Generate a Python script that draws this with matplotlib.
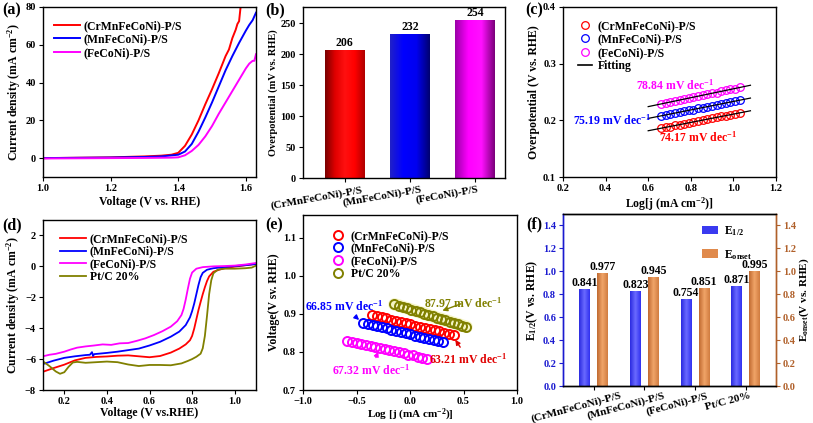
import numpy as np
import matplotlib
matplotlib.use("Agg")
import matplotlib.pyplot as plt
from matplotlib.colors import LinearSegmentedColormap
from matplotlib.patches import Patch
from matplotlib.transforms import ScaledTranslation

# (a) OER polarization curves
va_cr = [1.00, 1.10, 1.20, 1.30, 1.35, 1.38, 1.40, 1.42, 1.44, 1.46, 1.48, 1.50, 1.52, 1.54, 1.55, 1.56, 1.57, 1.575, 1.58, 1.585]
ja_cr = [0.0, 0.2, 0.4, 0.9, 1.3, 1.8, 2.8, 6.5, 12.5, 20.0, 28.5, 36.5, 45.0, 54.0, 57.5, 63.5, 68.0, 71.0, 72.5, 81.0]
va_mn = [1.00, 1.10, 1.20, 1.30, 1.35, 1.40, 1.42, 1.44, 1.46, 1.48, 1.50, 1.52, 1.54, 1.56, 1.58, 1.60, 1.61, 1.62, 1.63]
ja_mn = [0.0, 0.15, 0.3, 0.6, 0.9, 1.8, 3.5, 7.5, 14.0, 21.5, 29.5, 38.0, 46.5, 54.0, 61.0, 67.5, 70.5, 73.0, 77.0]
va_fe = [1.00, 1.10, 1.20, 1.30, 1.38, 1.40, 1.42, 1.44, 1.46, 1.48, 1.50, 1.52, 1.54, 1.56, 1.58, 1.60, 1.61, 1.62, 1.625, 1.63]
ja_fe = [-0.2, -0.1, 0.0, 0.1, 0.25, 0.4, 1.5, 3.8, 7.0, 11.5, 17.0, 23.5, 29.5, 35.5, 41.5, 47.5, 50.0, 51.5, 51.5, 55.0]

names = ["(CrMnFeCoNi)-P/S", "(MnFeCoNi)-P/S", "(FeCoNi)-P/S"]

# (b) overpotential
overpot = [206, 232, 254]

# (c) OER Tafel
logj_c = [0.660, 0.682, 0.704, 0.725, 0.747, 0.769, 0.791, 0.812, 0.834, 0.856, 0.878, 0.899, 0.921, 0.943, 0.965, 0.986, 1.008, 1.030]
eta_cr = [0.186, 0.188, 0.189, 0.191, 0.192, 0.194, 0.196, 0.197, 0.199, 0.200, 0.202, 0.204, 0.205, 0.207, 0.208, 0.210, 0.212, 0.213]
eta_mn = [0.208, 0.210, 0.211, 0.213, 0.214, 0.216, 0.218, 0.219, 0.221, 0.222, 0.224, 0.226, 0.227, 0.229, 0.231, 0.232, 0.234, 0.236]
eta_fe = [0.229, 0.231, 0.232, 0.234, 0.236, 0.237, 0.239, 0.241, 0.243, 0.244, 0.246, 0.248, 0.249, 0.251, 0.253, 0.255, 0.256, 0.258]
tafel_c = ["74.17", "75.19", "78.84"]

# (d) ORR polarization curves
vd_cr = [0.10, 0.15, 0.20, 0.25, 0.30, 0.35, 0.40, 0.45, 0.50, 0.55, 0.60, 0.65, 0.70, 0.74, 0.77, 0.79, 0.80, 0.81, 0.82, 0.83, 0.84, 0.85, 0.86, 0.87, 0.88, 0.90, 0.93, 0.96, 1.00, 1.05, 1.10]
jd_cr = [-6.82, -6.58, -6.36, -6.08, -5.92, -5.86, -5.83, -5.78, -5.76, -5.82, -5.88, -5.80, -5.58, -5.32, -5.05, -4.78, -4.50, -4.02, -3.42, -2.82, -2.30, -1.80, -1.35, -0.95, -0.65, -0.35, -0.20, -0.10, -0.02, 0.07, 0.16]
vd_mn = [0.10, 0.15, 0.20, 0.25, 0.30, 0.32, 0.33, 0.335, 0.34, 0.40, 0.45, 0.50, 0.55, 0.60, 0.65, 0.70, 0.74, 0.77, 0.79, 0.80, 0.81, 0.82, 0.83, 0.84, 0.85, 0.87, 0.90, 0.95, 1.00, 1.05, 1.10]
jd_mn = [-6.32, -6.10, -5.92, -5.82, -5.74, -5.72, -5.55, -5.80, -5.68, -5.60, -5.52, -5.42, -5.32, -5.12, -4.88, -4.55, -4.22, -3.80, -3.30, -2.90, -2.40, -1.80, -1.20, -0.70, -0.42, -0.22, -0.12, -0.05, 0.02, 0.08, 0.15]
vd_fe = [0.10, 0.13, 0.16, 0.20, 0.23, 0.26, 0.30, 0.34, 0.38, 0.42, 0.46, 0.50, 0.54, 0.58, 0.62, 0.66, 0.70, 0.73, 0.75, 0.76, 0.77, 0.78, 0.79, 0.80, 0.82, 0.85, 0.90, 0.95, 1.00, 1.05, 1.10]
jd_fe = [-5.82, -5.72, -5.66, -5.52, -5.38, -5.26, -5.18, -5.12, -5.05, -5.08, -4.98, -4.96, -4.82, -4.66, -4.45, -4.20, -3.90, -3.55, -3.15, -2.75, -2.15, -1.45, -0.80, -0.40, -0.15, -0.05, 0.00, 0.02, 0.05, 0.12, 0.22]
vd_pt = [0.10, 0.13, 0.16, 0.18, 0.20, 0.22, 0.24, 0.26, 0.30, 0.35, 0.40, 0.45, 0.50, 0.55, 0.60, 0.65, 0.70, 0.75, 0.78, 0.80, 0.82, 0.84, 0.85, 0.86, 0.87, 0.88, 0.89, 0.90, 0.92, 0.95, 1.00, 1.05, 1.08, 1.10]
jd_pt = [-6.15, -6.45, -6.80, -6.95, -6.85, -6.50, -6.22, -6.18, -6.24, -6.20, -6.16, -6.20, -6.35, -6.45, -6.38, -6.38, -6.40, -6.28, -6.12, -6.00, -5.85, -5.65, -5.30, -4.50, -3.20, -1.80, -0.90, -0.45, -0.22, -0.15, -0.15, -0.12, -0.08, 0.05]

# (e) ORR Tafel
le_cr = [-0.356, -0.311, -0.266, -0.221, -0.176, -0.131, -0.086, -0.041, 0.004, 0.049, 0.094, 0.139, 0.184, 0.229, 0.274, 0.319, 0.364, 0.409]
ve_cr = [0.897, 0.894, 0.891, 0.888, 0.885, 0.882, 0.879, 0.876, 0.873, 0.869, 0.866, 0.863, 0.860, 0.857, 0.854, 0.851, 0.848, 0.845]
le_mn = [-0.437, -0.393, -0.349, -0.305, -0.261, -0.217, -0.174, -0.130, -0.086, -0.042, 0.002, 0.046, 0.090, 0.134, 0.178, 0.221, 0.265, 0.309]
ve_mn = [0.877, 0.874, 0.871, 0.868, 0.865, 0.862, 0.859, 0.856, 0.853, 0.849, 0.846, 0.843, 0.840, 0.837, 0.834, 0.831, 0.828, 0.825]
le_fe = [-0.585, -0.541, -0.497, -0.454, -0.410, -0.366, -0.323, -0.279, -0.235, -0.192, -0.148, -0.104, -0.060, -0.017, 0.027, 0.071, 0.114, 0.158]
ve_fe = [0.830, 0.827, 0.824, 0.822, 0.819, 0.816, 0.813, 0.810, 0.808, 0.805, 0.802, 0.799, 0.796, 0.793, 0.791, 0.788, 0.785, 0.782]
le_pt = [-0.146, -0.106, -0.067, -0.027, 0.013, 0.052, 0.092, 0.132, 0.171, 0.211, 0.251, 0.290, 0.330, 0.370, 0.409, 0.449, 0.489, 0.528]
ve_pt = [0.925, 0.922, 0.918, 0.915, 0.911, 0.908, 0.904, 0.901, 0.897, 0.894, 0.890, 0.887, 0.883, 0.880, 0.876, 0.873, 0.869, 0.866]

# (f) half-wave and onset potentials
samples_f = ["(CrMnFeCoNi)-P/S", "(MnFeCoNi)-P/S", "(FeCoNi)-P/S", "Pt/C 20%"]
e_half = [0.841, 0.823, 0.754, 0.871]
e_onset = [0.977, 0.945, 0.851, 0.995]

RED, BLUE, MAG, OLIVE = "#ff0000", "#0000ff", "#ff00ff", "#808000"
FBLUE, FBROWN = "#1a1ad0", "#b0602a"

plt.rcParams["font.family"] = "serif"
plt.rcParams["font.serif"] = ["Liberation Serif", "DejaVu Serif"]
plt.rcParams["font.weight"] = "bold"
plt.rcParams["axes.labelweight"] = "bold"
plt.rcParams["mathtext.fontset"] = "custom"
plt.rcParams["mathtext.rm"] = "Liberation Serif:bold"
plt.rcParams["mathtext.it"] = "Liberation Serif:italic:bold"
plt.rcParams["mathtext.bf"] = "Liberation Serif:bold"
plt.rcParams["axes.linewidth"] = 1.0
plt.rcParams["xtick.major.size"] = 3
plt.rcParams["ytick.major.size"] = 3
plt.rcParams["xtick.major.pad"] = 2
plt.rcParams["ytick.major.pad"] = 2
plt.rcParams["xtick.labelsize"] = 7.5
plt.rcParams["ytick.labelsize"] = 7.5
plt.rcParams["axes.labelsize"] = 8.5
plt.rcParams["axes.labelpad"] = 2
plt.rcParams["legend.fontsize"] = 8.5

W, H = 813, 423
fig = plt.figure(figsize=(W / 100, H / 100), dpi=100)


def box(l, t, r, b):
    return fig.add_axes([l / W, 1 - b / H, (r - l) / W, (b - t) / H])


def shade(ax, bars, stops):
    for b, st in zip(bars, stops):
        cm = LinearSegmentedColormap.from_list("g", st)
        x0, y0 = b.get_xy()
        ax.imshow(np.linspace(0, 1, 100)[None, :], cmap=cm, aspect="auto",
                  extent=[x0, x0 + b.get_width(), y0, y0 + b.get_height()], zorder=2)
        b.set_facecolor("none")


def shift(ax, dx, dy=0):
    off = ScaledTranslation(dx / 100, dy / 100, fig.dpi_scale_trans)
    for lb in ax.get_xticklabels():
        lb.set_transform(lb.get_transform() + off)


# ---- (a)
ax = box(43, 7, 256, 177)
ax.plot(va_cr, ja_cr, color=RED, lw=1.4, label=names[0])
ax.plot(va_mn, ja_mn, color=BLUE, lw=1.4, label=names[1])
ax.plot(va_fe, ja_fe, color=MAG, lw=1.4, label=names[2])
ax.set_xlim(1.0, 1.63)
ax.set_ylim(-10, 80)
ax.set_xticks([1.0, 1.2, 1.4, 1.6])
ax.set_yticks([0, 20, 40, 60, 80])
ax.set_xlabel("Voltage (V vs. RHE)")
ax.set_ylabel("Current density (mA cm$^{-2}$)")
ax.legend(loc="upper left", bbox_to_anchor=(0.0, 0.985), frameon=False,
          handlelength=2.2, labelspacing=0.12, handletextpad=0.3)

# ---- (b)
ax = box(303, 7, 505, 178)
bars = ax.bar(range(3), overpot, width=0.6, zorder=2)
shade(ax, bars, [["#7a0000", "#e00000", "#ff1010", "#ff0000", "#b00000"],
                 ["#2020c8", "#0000ff", "#0000f0", "#000070"],
                 ["#9a00a8", "#ff00ff", "#ff10ff", "#7a007a"]])
for i, v in enumerate(overpot):
    ax.text(i, v + 2, str(v), ha="center", va="bottom", fontsize=8.5, fontweight="bold")
ax.set_xlim(-0.64, 2.46)
ax.set_ylim(0, 276)
ax.set_yticks([0, 50, 100, 150, 200, 250])
ax.set_xticks(range(3))
ax.set_xticklabels(names, rotation=10, fontsize=8)
shift(ax, -28)
ax.set_ylabel("Overpotential (mV vs. RHE)", fontsize=7.5)

# ---- (c)
ax = box(563, 7, 776, 177)
mk = dict(marker="o", ls="none", mfc="none", ms=5.5, mew=0.9)
for y, c, n in [(eta_cr, RED, names[0]), (eta_mn, BLUE, names[1]), (eta_fe, MAG, names[2])]:
    ax.plot(logj_c, y, color=c, label=n, **mk)
for y in [eta_cr, eta_mn, eta_fe]:
    k, b0 = np.polyfit(logj_c, y, 1)
    xx = np.array([0.60, 1.08])
    ax.plot(xx, k * xx + b0, color="black", lw=0.9)
ax.plot([], [], color="black", lw=1.2, label="Fitting")
ax.text(0.727, 0.262, tafel_c[2] + " mV dec$^{-1}$", color=MAG, ha="center", va="center", fontsize=8.5)
ax.text(0.43, 0.200, tafel_c[1] + " mV dec$^{-1}$", color=BLUE, ha="center", va="center", fontsize=8.5)
ax.text(0.836, 0.170, tafel_c[0] + " mV dec$^{-1}$", color=RED, ha="center", va="center", fontsize=8.5)
ax.set_xlim(0.2, 1.2)
ax.set_ylim(0.1, 0.4)
ax.set_xticks([0.2, 0.4, 0.6, 0.8, 1.0, 1.2])
ax.set_yticks([0.1, 0.2, 0.3, 0.4])
ax.set_xlabel("Log[j (mA cm$^{-2}$)]")
ax.set_ylabel("Overpotential (V vs. RHE)")
ax.legend(loc="upper left", bbox_to_anchor=(0.02, 0.985), frameon=False,
          handlelength=1.2, labelspacing=0.12, handletextpad=0.5, numpoints=1)

# ---- (d)
ax = box(43, 220, 256, 390)
ax.plot(vd_cr, jd_cr, color=RED, lw=1.3, label=names[0])
ax.plot(vd_mn, jd_mn, color=BLUE, lw=1.3, label=names[1])
ax.plot(vd_fe, jd_fe, color=MAG, lw=1.3, label=names[2])
ax.plot(vd_pt, jd_pt, color=OLIVE, lw=1.3, label="Pt/C 20%")
ax.set_xlim(0.1, 1.1)
ax.set_ylim(-8, 3)
ax.set_xticks([0.2, 0.4, 0.6, 0.8, 1.0])
ax.set_yticks([-8, -6, -4, -2, 0, 2])
ax.set_xlabel("Voltage (V vs.RHE)", labelpad=1)
ax.set_ylabel("Current density (mA cm$^{-2}$)")
ax.legend(loc="upper left", bbox_to_anchor=(0.03, 0.985), frameon=False,
          handlelength=2.2, labelspacing=0.05, handletextpad=0.3)

# ---- (e)
ax = box(303, 215, 517, 390)
ax.plot(le_pt, ve_pt, color="#f4f4c4", lw=9, solid_capstyle="round", zorder=1)
mk = dict(marker="o", ls="none", mfc="none", ms=6.5, mew=1.4)
for x, y, c, n in [(le_cr, ve_cr, RED, names[0]), (le_mn, ve_mn, BLUE, names[1]),
                   (le_fe, ve_fe, MAG, names[2]), (le_pt, ve_pt, OLIVE, "Pt/C 20%")]:
    ax.plot(x, y, color=c, label=n, zorder=3, **mk)
arr = dict(arrowstyle="-|>", lw=1.0, mutation_scale=7)
ax.annotate("66.85 mV dec$^{-1}$", xy=(-0.456, 0.879), xytext=(-0.62, 0.921), color=BLUE,
            ha="center", va="center", fontsize=8.5, arrowprops=dict(color=BLUE, **arr))
ax.annotate("63.21 mV dec$^{-1}$", xy=(0.409, 0.838), xytext=(0.546, 0.780), color="#e00000",
            ha="center", va="center", fontsize=8.5, arrowprops=dict(color="#e00000", **arr))
ax.annotate("87.97 mV dec$^{-1}$", xy=(0.278, 0.906), xytext=(0.50, 0.929), color=OLIVE,
            ha="center", va="center", fontsize=8.5, arrowprops=dict(color=OLIVE, **arr))
ax.annotate("67.32 mV dec$^{-1}$", xy=(-0.287, 0.808), xytext=(-0.365, 0.752), color=MAG,
            ha="center", va="center", fontsize=8.5, arrowprops=dict(color=MAG, **arr))
ax.set_xlim(-1.0, 1.0)
ax.set_ylim(0.7, 1.16)
ax.set_xticks([-1.0, -0.5, 0.0, 0.5, 1.0])
ax.set_yticks([0.7, 0.8, 0.9, 1.0, 1.1])
ax.set_xlabel("Log [j (mA cm$^{-2}$)]", labelpad=0.5, fontsize=8)
ax.set_ylabel("Voltage(V sv. RHE)")
ax.legend(loc="upper left", bbox_to_anchor=(0.08, 0.975), frameon=False,
          handlelength=1.2, labelspacing=0.05, handletextpad=0.5, numpoints=1)

# ---- (f)
ax = box(563, 214, 776, 386)
ax2 = ax.twinx()
x = np.arange(len(samples_f))
b1 = ax.bar(x - 0.178, e_half, width=0.217, edgecolor="white", lw=0.6, zorder=2)
b2 = ax.bar(x + 0.178, e_onset, width=0.217, edgecolor="white", lw=0.6, zorder=2)
shade(ax, b1, [["#2a2ae0", "#6a6aff", "#3030f0"]] * 4)
shade(ax, b2, [["#c06a30", "#f0a468", "#d07c40"]] * 4)
for xi, v in zip(x - 0.178, e_half):
    ax.text(xi, v + 0.005, f"{v:.3f}", ha="center", va="bottom", fontsize=8.5, zorder=4)
for xi, v in zip(x + 0.178, e_onset):
    ax.text(xi, v + 0.005, f"{v:.3f}", ha="center", va="bottom", fontsize=8.5, zorder=4)
ax.set_xlim(-0.61, 3.6)
ax.set_ylim(0, 1.5)
ax2.set_ylim(0, 1.5)
ticks = [0.0, 0.2, 0.4, 0.6, 0.8, 1.0, 1.2, 1.4]
ax.set_yticks(ticks)
ax2.set_yticks(ticks)
ax.tick_params(axis="y", colors=FBLUE)
ax2.tick_params(axis="y", colors=FBROWN)
for a in (ax, ax2):
    a.spines["left"].set_color(FBLUE)
    a.spines["right"].set_color(FBROWN)
ax.set_xticks(x)
ax.set_xticklabels(samples_f, rotation=15, fontsize=8)
shift(ax, -18, 2)
ax.set_ylabel("E$_{1/2}$(V vs. RHE)")
ax2.set_ylabel(r"E$_{\mathrm{onset}}$(V vs. RHE)", rotation=90, labelpad=1, fontsize=8)
ax.legend(handles=[Patch(facecolor="#3a3af0", label="E$_{1/2}$"),
                   Patch(facecolor="#e08a4c", label=r"E$_{\mathrm{onset}}$")],
          loc="upper left", bbox_to_anchor=(0.63, 0.97), borderaxespad=0, frameon=False,
          handlelength=1.4, handleheight=0.7, labelspacing=0.85, handletextpad=0.5)

# panel letters
for s, px, py in [("(a)", 2, 2), ("(b)", 265, 2), ("(c)", 525, 2),
                  ("(d)", 2, 217), ("(e)", 265, 217), ("(f)", 526, 216)]:
    fig.text(px / W, 1 - py / H, s, fontsize=11.5, fontweight="bold", va="top", ha="left")

fig.savefig("out.png", dpi=100)
